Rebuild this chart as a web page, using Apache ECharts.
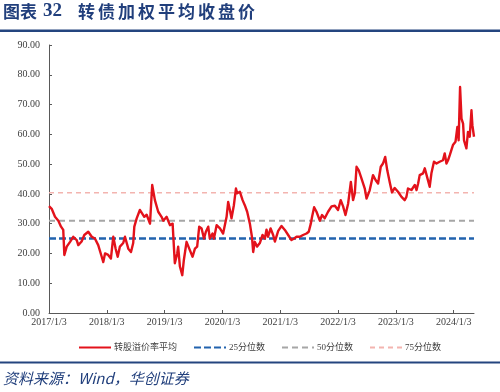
<!DOCTYPE html>
<html>
<head>
<meta charset="utf-8">
<script src="https://cdn.jsdelivr.net/npm/echarts@6/dist/echarts.min.js"></script>
<style>html,body{margin:0;padding:0;background:#fff;}#c{width:500px;height:392px;}</style>
</head>
<body>
<div id="c"></div>
<script>
var dates = [
'2017-01-03','2017-01-20','2017-02-10','2017-03-03','2017-03-20','2017-04-03','2017-04-10','2017-04-25','2017-05-16','2017-06-05','2017-06-27','2017-07-07','2017-07-28','2017-08-14','2017-09-08','2017-09-30','2017-10-20','2017-11-10','2017-12-02','2017-12-12','2017-12-23',
'2018-01-12','2018-01-29','2018-02-13','2018-02-28','2018-03-13','2018-03-27','2018-04-17','2018-04-28','2018-05-19','2018-06-05','2018-06-19','2018-06-26','2018-07-11','2018-07-31','2018-08-11','2018-08-28','2018-09-12','2018-10-03','2018-10-17','2018-11-03','2018-11-24','2018-12-15','2018-12-26',
'2019-01-16','2019-02-06','2019-02-23','2019-03-03','2019-03-09','2019-03-24','2019-03-30','2019-04-10','2019-04-25','2019-05-05','2019-05-22','2019-06-08','2019-06-29','2019-07-14','2019-07-28','2019-08-10','2019-08-25','2019-09-09','2019-09-21','2019-10-06','2019-10-16','2019-11-02','2019-11-11','2019-11-28','2019-12-19',
'2020-01-08','2020-01-19','2020-01-30','2020-02-09','2020-02-20','2020-03-01','2020-03-16','2020-03-29','2020-04-06','2020-04-23','2020-05-10','2020-05-24','2020-06-08','2020-06-25','2020-07-08','2020-07-16','2020-07-26','2020-08-10','2020-08-27','2020-09-13','2020-09-28','2020-10-08','2020-10-18','2020-11-03','2020-11-19','2020-11-30','2020-12-21',
'2021-01-11','2021-02-01','2021-02-22','2021-03-15','2021-04-01','2021-04-16','2021-05-07','2021-05-27','2021-06-18','2021-07-02','2021-07-15','2021-07-23','2021-08-05','2021-08-20','2021-09-10','2021-09-24','2021-10-11','2021-11-01','2021-11-23','2021-12-14',
'2022-01-03','2022-01-20','2022-02-04','2022-02-19','2022-03-08','2022-03-25','2022-04-08','2022-04-19','2022-04-30','2022-05-14','2022-05-31','2022-06-21','2022-07-02','2022-07-22','2022-08-12','2022-08-29','2022-09-13','2022-09-30','2022-10-14','2022-10-28','2022-11-10','2022-11-26','2022-12-10','2022-12-27',
'2023-01-17','2023-02-08','2023-02-28','2023-03-11','2023-03-21','2023-04-12','2023-05-03','2023-05-14','2023-05-24','2023-06-03','2023-06-24','2023-07-05','2023-07-22','2023-08-05','2023-08-16','2023-09-01','2023-09-17','2023-10-07','2023-10-28','2023-11-08','2023-11-19','2023-11-29','2023-12-10','2023-12-20','2023-12-30',
'2024-01-15','2024-01-27','2024-02-04','2024-02-13','2024-02-22','2024-03-03','2024-03-09','2024-03-24','2024-04-03','2024-04-14','2024-04-25','2024-05-01','2024-05-11'
];
var premiumAvg = [
35.9,35,32.3,31,29,27.9,19.5,22.3,23.9,25.6,24.5,22.8,24,26.2,27.3,25.6,25,22.8,18.9,17.1,20,
19.5,18.3,25.6,21.6,18.9,22.3,23.5,25.6,21.6,20.5,23.5,29,31.8,34.6,35.2,32.3,33,30,43,37.9,34,32.3,31,
32.3,29.5,30,22.3,16.7,20,22.3,15.6,12.7,17.8,23.9,21.6,18.9,21.6,22.3,29,28.4,25,27.3,29,25,26.7,25,29.5,28.4,
26.7,27.3,32.3,37.3,34.6,31.8,36.2,41.8,40.2,40.7,37.9,36.2,34,30,25.6,20.5,23.9,22.3,23.5,26.2,25,28,25.6,28.4,26.2,24,27.6,
29.2,27.9,26.2,24.5,25,25.6,25.6,26.2,26.7,27.3,30,32.3,35.5,34,31,32.9,31.8,34,35.8,36,
34.6,37.9,35.8,32.9,36.8,44,37.9,40.2,49.1,47.9,45.2,41.8,38.4,41.2,46.3,44.6,43.5,49.1,50.2,52.4,47.9,43.8,40.5,42,
40.7,39,37.9,39,41.8,41.3,43,41.3,43.5,46.3,46.9,48.6,45.2,42.4,46.9,50.8,50.2,50.8,51.3,53.6,50.2,51.3,53,54.7,56.4,
57.5,62.5,58,75.9,65.3,63.6,58,55.3,60.8,59.2,68.1,63,59.2
];
var quantileNames = ['25分位数','50分位数','75分位数'];
var quantileValues = [25.0, 31.0, 40.4];
var seriesNames = ['转股溢价率平均'].concat(quantileNames);
var yTicks = [0,10,20,30,40,50,60,70,80,90];

var startDate = '2017-01-03';
var DAY = 86400000;
function dayOf(d){ return Math.round((Date.parse(d) - Date.parse(startDate)) / DAY); }
var xs = dates.map(dayOf);
var xMax = xs[xs.length - 1];
var mainData = xs.map(function(x, i){ return [x, premiumAvg[i]]; });

var qColors = ['#2263AE', '#A6A6A6', '#F3B4AF'];
var qWidths = [2.5, 2, 1.5];
var qDash = [[7,3],[6,4],[5,4]];

var serif = 'Liberation Serif, Noto Sans CJK SC, serif';
var chart = echarts.init(document.getElementById('c'), null, {renderer:'canvas'});

var series = [{
  name: seriesNames[0], type: 'line', data: mainData, symbol: 'none', showSymbol: false, z: 5,
  lineStyle: {color: '#E3121B', width: 2.4, join: 'round'}, itemStyle: {color: '#E3121B'}
}];
quantileValues.forEach(function(v, i){
  series.push({
    name: quantileNames[i], type: 'line', symbol: 'none', showSymbol: false, z: 3,
    data: [[0, v], [xMax, v]],
    lineStyle: {color: qColors[i], width: qWidths[i], type: qDash[i]},
    itemStyle: {color: qColors[i]}
  });
});

var titleChars = '转债加权平均收盘价'.split('');
var graphics = [
  {type:'text', left:3, top:3, style:{text:'图表', font:'bold 17px "Noto Sans CJK SC"', fill:'#213F7C'}},
  {type:'text', left:43, top:2, style:{text:'32', font:'bold 19px "Liberation Serif"', fill:'#213F7C'}},
  {type:'rect', left:0, top:29.5, shape:{width:500, height:2.5}, style:{fill:'#24457F'}},
  {type:'rect', left:0, top:361.5, shape:{width:500, height:2}, style:{fill:'#24457F'}},
  {type:'text', left:3, top:371, style:{text:'资料来源：Wind，华创证券', font:'italic 15px "Noto Sans CJK SC"', fill:'#213F7C'}}
];
titleChars.forEach(function(ch, i){
  graphics.push({type:'text', left:78 + i*20, top:3, style:{text:ch, font:'bold 17px "Noto Sans CJK SC"', fill:'#213F7C'}});
});

chart.setOption({
  animation: false,
  backgroundColor: '#fff',
  grid: {left: 49, right: 26, top: 45, bottom: 79, containLabel: false},
  xAxis: {
    type: 'value', min: 0, max: xMax, interval: 365.25,
    axisLine: {show: true, lineStyle: {color: '#595959', width: 1}},
    axisTick: {show: true, inside: true, length: 3, lineStyle: {color: '#595959'}},
    splitLine: {show: false},
    axisLabel: {
      showMaxLabel: false, margin: 4, color: '#404040', fontSize: 10, fontFamily: serif,
      formatter: function(v){ return (2017 + Math.round(v / 365.25)) + '/1/3'; }
    }
  },
  yAxis: {
    type: 'value', min: yTicks[0], max: yTicks[yTicks.length-1], interval: 10,
    axisLine: {show: true, lineStyle: {color: '#595959', width: 1}},
    axisTick: {show: true, inside: true, length: 3, lineStyle: {color: '#595959'}},
    splitLine: {show: false},
    axisLabel: {margin: 9, color: '#404040', fontSize: 10, fontFamily: serif,
      formatter: function(v){ return v.toFixed(2); }}
  },
  legend: {
    data: seriesNames, top: 338, left: 73, itemWidth: 32, itemHeight: 10, itemGap: 16,
    itemStyle: {opacity: 0},
    textStyle: {fontSize: 9, color: '#404040', fontFamily: serif, padding: [0,0,0,-2]}
  },
  series: series,
  graphic: graphics
});
</script>
</body>
</html>
